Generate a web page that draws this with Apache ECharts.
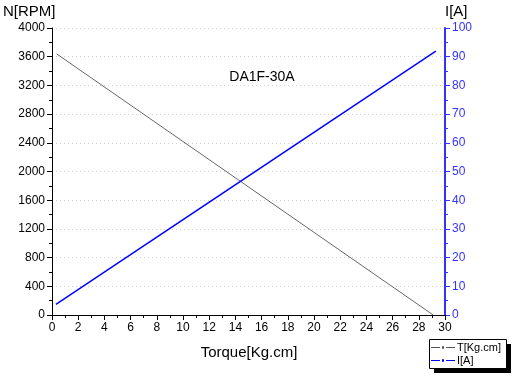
<!DOCTYPE html>
<html><head><meta charset="utf-8">
<script src="https://cdn.jsdelivr.net/npm/echarts@6/dist/echarts.min.js"></script>
<style>html,body{margin:0;padding:0;background:#fff}#c{width:516px;height:380px}</style>
</head><body><div id="c"></div>
<script>
const torqueX = [0.35, 29.1];
const speedN = [3640, 0];
const currentX = [0.3, 29.3];
const currentI = [3.7, 91.9];
const title = 'DA1F-30A';
const xName = 'Torque[Kg.cm]';
const leftName = 'N[RPM]';
const rightName = 'I[A]';
const seriesNames = ['T[Kg.cm]', 'I[A]'];

const chart = echarts.init(document.getElementById('c'), null, {renderer: 'canvas'});
const font = 'Liberation Sans, Arial, sans-serif';
const legendIcon = 'path://M0,4h9v1.2h-9z M11,3.4h2v2.4h-2z M15,4h9v1.2h-9z';
chart.setOption({
  animation: false,
  textStyle: {fontFamily: font},
  grid: {left: 52, right: 71, top: 28, bottom: 65},
  graphic: [
    {type: 'text', x: 262, y: 70, style: {text: title, font: '14px ' + font, fill: '#000', align: 'center'}},
    {type: 'text', x: 3, y: 4, style: {text: leftName, font: '15px ' + font, fill: '#000'}},
    {type: 'text', x: 445, y: 4, style: {text: rightName, font: '15px ' + font, fill: '#000'}},
    {type: 'text', x: 249, y: 345, style: {text: xName, font: '15px ' + font, fill: '#000', align: 'center'}},
    {type: 'rect', shape: {x: 434, y: 344, width: 77, height: 29}, style: {fill: '#000'}, z: 90},
    {type: 'rect', shape: {x: 429.5, y: 339.5, width: 77, height: 29}, style: {fill: '#fff', stroke: '#000', lineWidth: 1}, z: 91}
  ],
  legend: {
    orient: 'vertical', left: 429, top: 341, padding: [1, 2], itemGap: 2, itemWidth: 24, itemHeight: 9, z: 100,
    textStyle: {fontFamily: font, fontSize: 11, color: '#000', padding: [0, 0, 0, -3]},
    data: [
      {name: seriesNames[0], icon: legendIcon, itemStyle: {color: '#555'}},
      {name: seriesNames[1], icon: legendIcon, itemStyle: {color: '#0000ff'}}
    ]
  },
  xAxis: {
    type: 'value', min: 0, max: 30, interval: 2,
    axisLine: {lineStyle: {color: '#000', width: 1}},
    axisTick: {show: true, length: 5, lineStyle: {color: '#000'}},
    minorTick: {show: true, splitNumber: 2, length: 3, lineStyle: {color: '#000'}},
    axisLabel: {fontSize: 12, color: '#000', fontFamily: font, margin: 7},
    splitLine: {show: false}
  },
  yAxis: [{
    type: 'value', min: 0, max: 4000, interval: 400,
    axisLine: {show: true, lineStyle: {color: '#000', width: 1}},
    axisTick: {show: true, length: 5, lineStyle: {color: '#000'}},
    minorTick: {show: true, splitNumber: 2, length: 3, lineStyle: {color: '#000'}},
    axisLabel: {fontSize: 12, color: '#000', fontFamily: font, margin: 7, formatter: v => String(v)},
    splitLine: {show: true, lineStyle: {color: '#d0d0d0', type: [1, 3], width: 1}}
  }, {
    type: 'value', min: 0, max: 100, interval: 10, position: 'right',
    axisLine: {show: true, lineStyle: {color: '#3333ff', width: 2}},
    axisTick: {show: true, length: 5, lineStyle: {color: '#3333ff', width: 1}},
    minorTick: {show: true, splitNumber: 2, length: 3, lineStyle: {color: '#3333ff'}},
    axisLabel: {fontSize: 12, color: '#3333ff', fontFamily: font, margin: 7},
    splitLine: {show: false}
  }],
  series: [{
    name: seriesNames[0], type: 'line', yAxisIndex: 0,
    data: torqueX.map((x, i) => [x, speedN[i]]),
    symbol: 'none',
    lineStyle: {color: '#666', width: 1}, itemStyle: {color: '#555'}
  }, {
    name: seriesNames[1], type: 'line', yAxisIndex: 1,
    data: currentX.map((x, i) => [x, currentI[i]]),
    symbol: 'none',
    lineStyle: {color: '#0000ff', width: 1.5}, itemStyle: {color: '#0000ff'}
  }]
});
</script></body></html>
